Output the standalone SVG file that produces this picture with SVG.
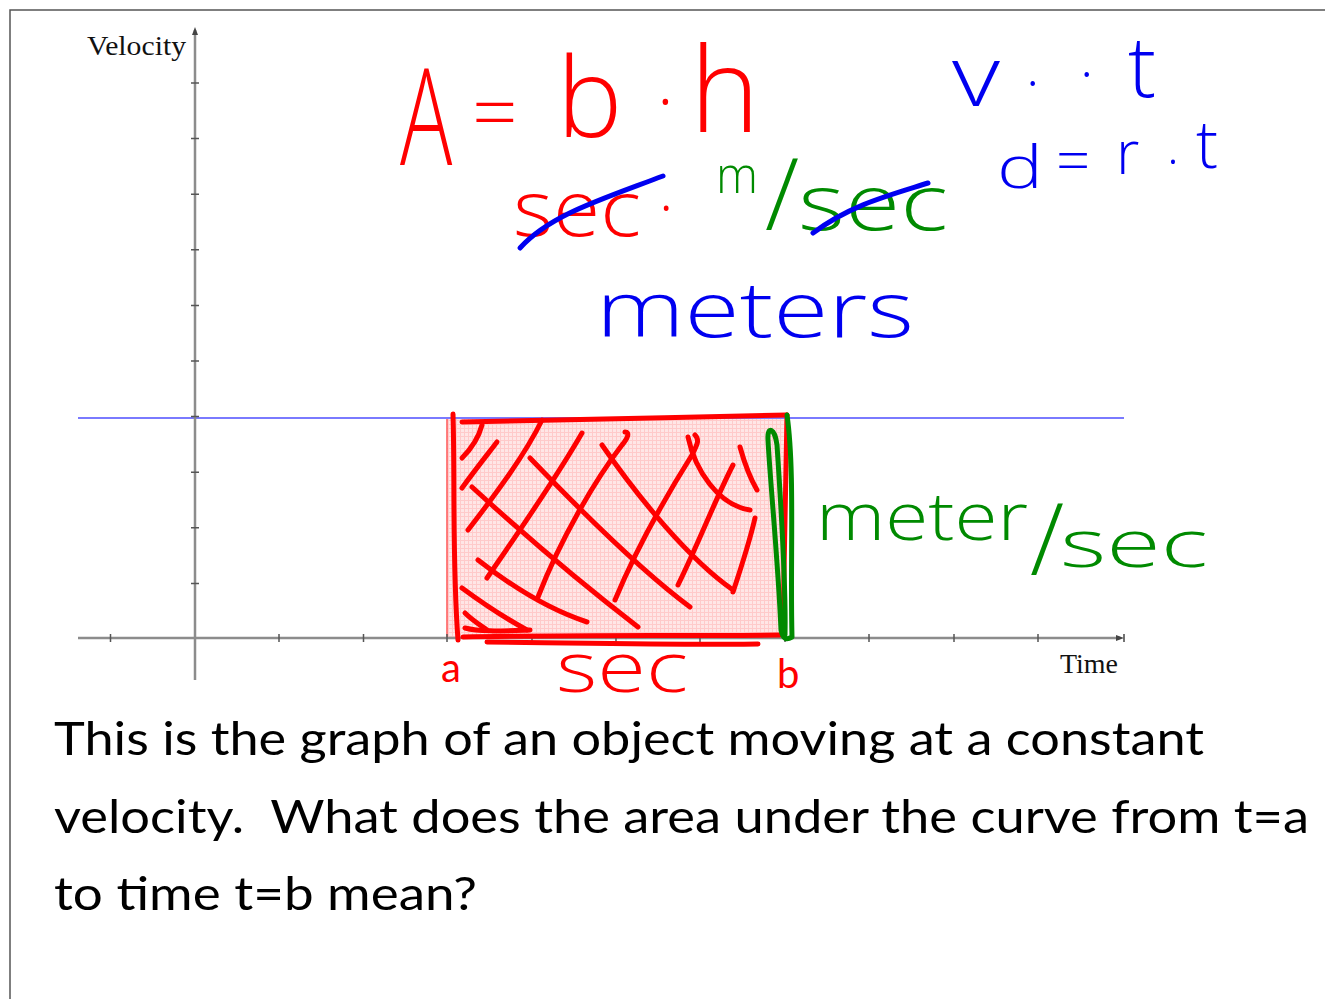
<svg xmlns="http://www.w3.org/2000/svg" width="1325" height="999" viewBox="0 0 1325 999">
<style>
.ax{stroke:#8c8c8c;stroke-width:2.5;fill:none}
.tk{stroke:#555;stroke-width:1.5}
.ink{fill:none;stroke-linecap:round;stroke-linejoin:round;stroke-width:5}
.r{stroke:#ff0000}.g{stroke:#008a00}.b{stroke:#0000f0}
.hw{font-family:"Open Sans","Liberation Sans",sans-serif;font-weight:300}
.fr{fill:#ff0000}.fg{fill:#008a00}.fb{fill:#0000f0}
.body{font-family:Lato,"Liberation Sans",sans-serif;font-size:46px;fill:#000}
.ser{font-family:"Liberation Serif",serif;fill:#111}
.lbl{font-family:Lato,"Liberation Sans",sans-serif;font-size:40px;fill:#ff0000}
</style>
<defs>
<pattern id="grid" width="4" height="4" patternUnits="userSpaceOnUse">
<rect width="4" height="4" fill="#ffe6e6"/>
<path d="M0 0.5H4M0.5 0V4" stroke="#ffcaca" stroke-width="1"/>
</pattern>
</defs>
<rect width="1325" height="999" fill="#fff"/>
<rect x="10" y="10" width="1330" height="1000" fill="none" stroke="#555" stroke-width="1.5"/>

<g id="graph">
<rect x="447" y="418" width="338" height="220" fill="url(#grid)"/>
<line x1="447" y1="418" x2="447" y2="638" stroke="#ff5555" stroke-width="1.5"/>
<line x1="78" y1="418" x2="1124" y2="418" stroke="#7a7aff" stroke-width="2"/>
<line class="ax" x1="195" y1="30" x2="195" y2="680"/>
<line class="ax" x1="78" y1="638" x2="1120" y2="638"/>
<path d="M195 27 L192 35 L198 35 Z" fill="#444"/>
<path d="M1124 638 L1116 635 L1116 641 Z" fill="#444"/>
<line x1="1124" y1="634" x2="1124" y2="642" stroke="#444" stroke-width="1.5"/>
<g class="tk">
<path d="M191 83H199M191 138.6H199M191 194.2H199M191 249.8H199M191 305.4H199M191 361H199M191 416.6H199M191 472.2H199M191 527.8H199M191 583.4H199"/>
<path d="M110.5 634V642M279 634V642M363.5 634V642M447 634V642M532 634V642M616 634V642M700 634V642M785 634V642M869 634V642M954 634V642M1038 634V642"/>
</g>
<text class="ser" x="186" y="55" font-size="28" text-anchor="end" textLength="99" lengthAdjust="spacingAndGlyphs">Velocity</text>
<text class="ser" x="1060" y="673" font-size="27" textLength="58" lengthAdjust="spacingAndGlyphs">Time</text>
<text class="lbl" x="441" y="682">a</text>
<text class="lbl" x="777" y="688">b</text>
</g>

<g id="area-hatch">
<path class="ink r" d="M453,414 C455,480 452,560 458,640"/>
<path class="ink r" d="M462,422 C560,419 680,418 787,415"/>
<path class="ink r" d="M787,415 C786,480 784,560 783,633"/>
<path class="ink r" stroke-width="6" d="M463,637 C560,635 680,636 780,635"/>
<path class="ink r" stroke-width="8" d="M487,642 C600,643 700,645 758,644"/>
<path class="ink r" d="M465,628 C480,632 500,631 530,630"/>
<path class="ink r" d="M462,458 C470,450 478,440 482,425"/>
<path class="ink r" d="M462,488 C475,470 487,455 497,442"/>
<path class="ink r" d="M468,530 C495,495 525,455 542,420"/>
<path class="ink r" d="M487,578 C520,530 555,480 582,433"/>
<path class="ink r" d="M538,597 C560,540 595,480 622,445 C628,438 630,432 625,432"/>
<path class="ink r" d="M615,600 C640,540 670,490 692,455 C697,445 700,440 695,435"/>
<path class="ink r" d="M678,585 C700,540 715,500 733,465"/>
<path class="ink r" d="M733,592 C742,565 750,540 755,518"/>
<path class="ink r" d="M740,447 C745,465 750,478 757,490"/>
<path class="ink r" d="M472,487 C530,540 590,590 638,627"/>
<path class="ink r" d="M530,458 C580,510 640,570 690,607"/>
<path class="ink r" d="M602,445 C640,500 690,560 733,590"/>
<path class="ink r" d="M688,437 C695,470 718,505 750,510"/>
<path class="ink r" d="M478,560 C510,585 550,610 587,622"/>
<path class="ink r" d="M462,588 C485,605 505,618 527,630"/>
<path class="ink r" d="M465,613 C472,620 480,625 487,630"/>
<path class="ink g" stroke-width="6" d="M787,415 C795,470 790,560 792,637 C787,640 783,640 781,630 C778,560 770,480 768,440 C767,425 775,428 777,445 C782,520 786,590 785,635"/>
</g>

<g id="eq-area">
<text class="hw fr" transform="translate(400 165) scale(0.65 1)" font-size="134">A</text>
<text class="hw fr" x="472" y="140" font-size="80">=</text>
<text class="hw fr" x="557" y="137" font-size="110">b</text>
<text class="hw fr" x="657" y="125" font-size="70">·</text>
<text class="hw fr" x="690" y="132" font-size="118">h</text>
</g>

<g id="units-sec">
<text class="hw fr" x="513" y="236" font-size="78" textLength="128" lengthAdjust="spacingAndGlyphs">sec</text>
<text class="hw fr" x="659" y="228" font-size="60">·</text>
<path class="ink b" d="M520,248 C550,215 600,200 663,176"/>
</g>

<g id="units-msec">
<text class="hw fg" x="716" y="193" font-size="52" textLength="42" lengthAdjust="spacingAndGlyphs">m</text>
<text class="hw fg" x="765" y="230" font-size="100">/</text>
<text class="hw fg" x="798" y="230" font-size="78" textLength="150" lengthAdjust="spacingAndGlyphs">sec</text>
<path class="ink b" d="M813,233 C850,205 890,195 928,183"/>
</g>

<g id="eq-vt">
<text class="hw fb" x="952" y="106" font-size="84" textLength="48" lengthAdjust="spacingAndGlyphs">v</text>
<text class="hw fb" x="1026" y="102" font-size="56">·</text>
<text class="hw fb" x="1080" y="93" font-size="56">·</text>
<text class="hw fb" x="1128" y="97" font-size="84">t</text>
</g>

<g id="eq-drt">
<text class="hw fb" x="997" y="188" font-size="58" textLength="46" lengthAdjust="spacingAndGlyphs">d</text>
<text class="hw fb" x="1056" y="182" font-size="60">=</text>
<text class="hw fb" x="1116" y="174" font-size="60">r</text>
<text class="hw fb" x="1167" y="178" font-size="50">·</text>
<text class="hw fb" x="1196" y="168" font-size="66">t</text>
</g>

<g id="meters">
<text class="hw fb" x="596" y="337" font-size="78" textLength="318" lengthAdjust="spacingAndGlyphs">meters</text>
</g>

<g id="meter-per-sec">
<text class="hw fg" x="816" y="540" font-size="66" textLength="212" lengthAdjust="spacingAndGlyphs">meter</text>
<text class="hw fg" x="1030" y="575" font-size="100">/</text>
<text class="hw fg" x="1060" y="567" font-size="66" textLength="148" lengthAdjust="spacingAndGlyphs">sec</text>
</g>

<g id="sec-base">
<text class="hw fr" x="556" y="692" font-size="70" textLength="132" lengthAdjust="spacingAndGlyphs">sec</text>
</g>

<g id="question">
<text class="body" x="54" y="755" textLength="1150" lengthAdjust="spacingAndGlyphs">This is the graph of an object moving at a constant</text>
<text class="body" x="54" y="833" textLength="1255" lengthAdjust="spacingAndGlyphs" xml:space="preserve">velocity.  What does the area under the curve from t=a</text>
<text class="body" x="54" y="910" textLength="423" lengthAdjust="spacingAndGlyphs">to time t=b mean?</text>
</g>
</svg>
